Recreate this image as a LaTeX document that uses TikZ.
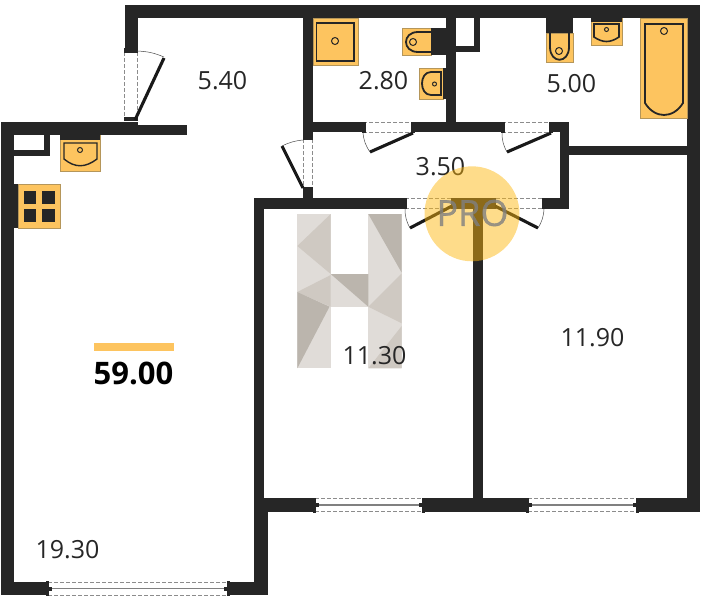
\documentclass[tikz,border=0pt]{standalone}
\usepackage{fontspec}
\setmainfont{Open Sans}
\newfontfamily\badgefont[FakeBold=0.7]{Open Sans}
\usetikzlibrary{positioning}
\definecolor{wall}{HTML}{262626}
\definecolor{fixture}{HTML}{FDC45F}
\definecolor{fixedge}{HTML}{B5965A}
\definecolor{badgefill}{HTML}{FDB60B}
\definecolor{hlight}{HTML}{E0DCD8}
\definecolor{hmid}{HTML}{CFC9C2}
\definecolor{hdark}{HTML}{BBB5AD}
\begin{document}
\begin{tikzpicture}[x=1pt, y=-1pt,
  wallpart/.style = {fill=wall, draw=none},
  leaf/.style = {draw=black!90, line width=3.1pt},
  swing/.style = {draw=black!70, line width=0.5pt},
  gap/.style = {draw=black!45, line width=0.9pt, dash pattern=on 4pt off 2pt},
  pane/.style = {draw=black!50, line width=1.3pt},
  fix/.style = {fill=fixture, draw=fixedge, line width=0.6pt},
  fixline/.style = {draw=wall, line width=1.4pt},
  area/.style = {font=\fontsize{25}{25}\selectfont, text=black!85, inner sep=0pt}]
  \useasboundingbox (0,0) rectangle (701,600);
  % logo
  \fill[hlight] (297.3,214) rectangle (330.7,368.3);
  \fill[hlight] (368.3,214) rectangle (401.7,368.3);
  \fill[hlight] (330.7,274) rectangle (368.3,306.7);
  \fill[hmid] (330.7,214) -- (297.3,246) -- (330.7,274) -- cycle;
  \fill[hmid] (297.3,292) -- (330.7,275) -- (330.7,306.7) -- cycle;
  \fill[hdark] (297.3,292) -- (329.5,306.7) -- (297.3,368.3) -- cycle;
  \fill[hdark] (330.7,274) -- (368.3,274) -- (368.3,306.7) -- cycle;
  \fill[hdark] (368.3,214) -- (401.7,214) -- (401.7,272.7) -- cycle;
  \fill[hmid] (401.7,273.3) -- (368.3,306.7) -- (401.7,323.3) -- cycle;
  \fill[hmid] (368.3,368.3) -- (401.7,368.3) -- (401.7,326) -- cycle;
  % walls
  \fill[wallpart] (124.5,5) rectangle (700,18);
  \fill[wallpart] (124.5,5) rectangle (137.5,50);
  \fill[wallpart] (1,122) rectangle (137.5,135);
  \fill[wallpart] (137.5,125) rectangle (187,135);
  \fill[wallpart] (1,122) rectangle (14,595);
  \fill[wallpart] (44,135) rectangle (50,156);
  \fill[wallpart] (14,150) rectangle (50,156);
  \fill[wallpart] (303,18) rectangle (312.5,137);
  \fill[wallpart] (303,190) rectangle (312.5,198);
  \fill[wallpart] (445.7,18) rectangle (455.7,122);
  \fill[wallpart] (474,18) rectangle (480,51.5);
  \fill[wallpart] (455.7,45.5) rectangle (480,51.5);
  \fill[wallpart] (312,122.3) rectangle (363,132.3);
  \fill[wallpart] (414,122.3) rectangle (502,132.3);
  \fill[wallpart] (552,122.3) rectangle (569,132.3);
  \fill[wallpart] (559.5,122.3) rectangle (569,208.5);
  \fill[wallpart] (569,145.5) rectangle (687,155);
  \fill[wallpart] (687,5) rectangle (700,512);
  \fill[wallpart] (254,198) rectangle (403,208.5);
  \fill[wallpart] (545,198) rectangle (569,208.5);
  \fill[wallpart] (451,198) rectangle (496,208.5);
  \fill[wallpart] (254,198) rectangle (263.5,498);
  \fill[wallpart] (473,208) rectangle (482.5,498);
  \fill[wallpart] (254,498) rectangle (267.5,595);
  \fill[wallpart] (254,498) rectangle (315,511.5);
  \fill[wallpart] (423,498) rectangle (528,511.5);
  \fill[wallpart] (637,498) rectangle (700,511.5);
  \fill[wallpart] (1,582) rectangle (48,595);
  \fill[wallpart] (228,582) rectangle (267.5,595);
  % doors in the horizontal walls
  \foreach \xa/\xb/\ya/\yb in {363/414/122.5/132.5, 502/552/122.5/132.5, 405/451/198.5/208.5, 496/544/198.5/208.5}{
    \draw[gap] (\xa,\ya) -- (\xb,\ya);
    \draw[gap] (\xa,\yb) -- (\xb,\yb);
  }
  \foreach \xa/\ya in {364/127.3, 413/127.3, 503/127.3, 551/127.3, 405/203.5, 544/203.5}
    \fill[wallpart] (\xa-2,\ya-5.5) rectangle (\xa+2,\ya+5.5);
  \draw[leaf] (413,133) -- (370,152);
  \draw[swing] (363,133) to[bend right=14] (370,152);
  \draw[leaf] (551,133) -- (507,152);
  \draw[swing] (502,133) to[bend right=14] (507,152);
  \draw[leaf] (452,206) -- (410,228);
  \draw[swing] (405,209) to[bend right=14] (410,228);
  \draw[leaf] (495,206) -- (538,228);
  \draw[swing] (544,209) to[bend left=14] (538,228);
  % doors in the vertical walls
  \foreach \xa/\xb/\ya/\yb in {124/137/52/118, 303/312/139/188}{
    \draw[gap] (\xa,\ya) -- (\xa,\yb);
    \draw[gap] (\xb,\ya) -- (\xb,\yb);
    \fill[wallpart] (\xa-0.5,\ya-4) rectangle (\xb+0.5,\ya+1);
    \fill[wallpart] (\xa-0.5,\yb-1) rectangle (\xb+0.5,\yb+3);
  }
  \draw[leaf] (135,120) -- (164,58);
  \draw[swing] (137,51) to[bend left=10] (164,57);
  \draw[leaf] (303,188) -- (282,146);
  \draw[swing] (303,140) to[bend right=10] (282,146);
  % windows
  \foreach \xa/\xb/\ya in {48/228/588.5, 315/423/505, 528/637/505}{
    \draw[gap] (\xa,\ya-6.5) -- (\xb,\ya-6.5);
    \draw[gap] (\xa,\ya+6.5) -- (\xb,\ya+6.5);
    \draw[pane] (\xa,\ya) -- (\xb,\ya);
    \fill[wallpart] (\xa-2,\ya-7.5) rectangle (\xa+1,\ya+7.5);
    \fill[wallpart] (\xb-1,\ya-7.5) rectangle (\xb+2,\ya+7.5);
    \fill[wallpart] (\xa,\ya-2) rectangle (\xa+4,\ya+2);
    \fill[wallpart] (\xb-4,\ya-2) rectangle (\xb,\ya+2);
  }
  % kitchen
  \draw[fix] (60,135) rectangle (100,171);
  \fill[wallpart] (60,135) rectangle (100,140);
  \draw[fixline] (64,143) -- (97,143) -- (97,159) .. controls (85,168) and (75,168) .. (64,159) -- cycle;
  \draw[fixline, line width=1pt] (80,150) circle (2.5);
  \fill[wallpart] (14,184) rectangle (18,228);
  \draw[fix] (18,184) rectangle (60,228);
  \foreach \xa in {23.5,42}
    \foreach \ya in {191,209}
      \fill[wallpart] (\xa,\ya) rectangle (\xa+12.5,\ya+12.5);
  % bathroom with 2.80
  \draw[fix] (313,18) rectangle (358,65);
  \draw[fixline, line width=1.8pt] (316.5,23) rectangle (354,61);
  \draw[fixline, line width=1pt] (335,41) circle (3.5);
  \draw[fix] (402,28) rectangle (431,55);
  \fill[wallpart] (431,28) rectangle (446,55);
  \draw[fixline, line width=1.8pt] (431,32) -- (418,32) .. controls (402,32) and (402,52) .. (418,52) -- (431,52);
  \draw[fixline, line width=1pt] (413,42) circle (3.5);
  \draw[fix] (419,68) rectangle (443,99);
  \fill[wallpart] (443,68) rectangle (446,99);
  \draw[fixline, line width=1.8pt] (441,72) -- (431,72) .. controls (419,72) and (419,95) .. (431,95) -- (441,95) -- cycle;
  \draw[fixline, line width=1pt] (434.5,84) circle (2);
  % bathroom with 5.00
  \draw[fix] (546,33) rectangle (573,62);
  \fill[wallpart] (546,18) rectangle (573,33);
  \draw[fixline, line width=1.8pt] (550,33) -- (550,47) .. controls (550,64) and (569,64) .. (569,47) -- (569,33);
  \draw[fixline, line width=1pt] (559,51) circle (3.5);
  \draw[fix] (591,18) rectangle (622,45);
  \fill[wallpart] (591,18) rectangle (622,22);
  \draw[fixline, line width=1.6pt] (594,24) -- (619,24) -- (619,37) .. controls (610,43) and (603,43) .. (594,37) -- cycle;
  \draw[fixline, line width=1pt] (606.5,29.5) circle (2);
  \draw[fix] (640,18) rectangle (687,118.5);
  \draw[fixline, line width=1.8pt] (645,24) -- (683,24) -- (683,103) .. controls (673,119) and (655,119) .. (645,103) -- cycle;
  \draw[fixline, line width=1pt] (664,31) circle (3.5);
  % labels
  \node[area] (hall) at (222.5,81) {5.40};
  \node[area] (wc) at (383.5,81) {2.80};
  \node[area] (bath) at (571.5,83.5) {5.00};
  \node[area] (corridor) at (440.5,167) {3.50};
  \node[area] (bedroom) at (374.5,355.5) {11.30};
  \node[area] (room) at (592.5,338) {11.90};
  \node[area] (living) at (67.5,549.5) {19.30};
  \fill[fixture] (94,343) rectangle (174,351);
  \node[font=\bfseries\fontsize{31}{31}\selectfont, inner sep=0pt] (total) at (133.5,373) {59.00};
  % badge
  \fill[badgefill, opacity=0.48] (472,213.8) circle (47.5);
  \node[font=\badgefont\fontsize{36}{36}\selectfont, text=black!50, opacity=0.8, inner sep=0pt] (badge) at (472.5,213) {PRO};
\end{tikzpicture}
\end{document}
